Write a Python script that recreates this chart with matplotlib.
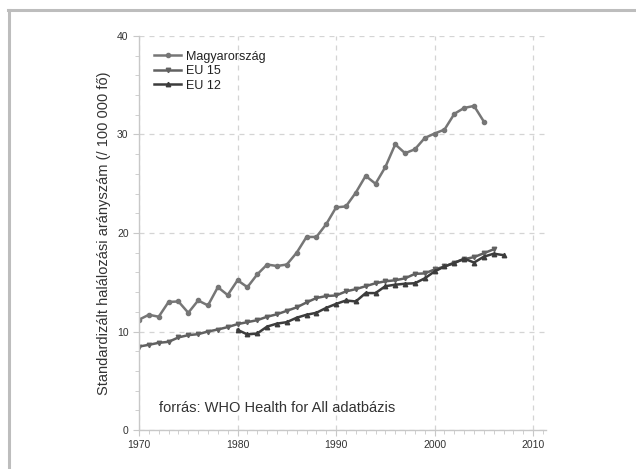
import matplotlib
matplotlib.use("Agg")
import matplotlib.pyplot as plt
from matplotlib.lines import Line2D
from matplotlib.ticker import MultipleLocator

plt.rcParams['font.family'] = ['Liberation Sans', 'DejaVu Sans']

years_hu = list(range(1970, 2006))
hu = [11.2, 11.7, 11.5, 13.0, 13.05, 11.9, 13.15, 12.65, 14.5, 13.7,
      15.2, 14.5, 15.8, 16.8, 16.65, 16.8, 18.0, 19.6, 19.6, 20.9,
      22.6, 22.7, 24.1, 25.8, 25.0, 26.7, 29.0, 28.1, 28.5, 29.65,
      30.1, 30.5, 32.1, 32.7, 32.9, 31.3]

years_eu15 = list(range(1970, 2007))
eu15 = [8.47, 8.65, 8.85, 8.95, 9.4, 9.63, 9.73, 10.0, 10.2, 10.45,
        10.75, 10.95, 11.15, 11.5, 11.75, 12.1, 12.45, 12.95, 13.4, 13.6,
        13.66, 14.07, 14.3, 14.6, 14.9, 15.1, 15.2, 15.4, 15.85, 15.9,
        16.3, 16.6, 17.0, 17.35, 17.55, 17.95, 18.35]

years_eu12 = list(range(1980, 2008))
eu12 = [10.17, 9.7, 9.8, 10.5, 10.8, 10.95, 11.4, 11.7, 11.9, 12.4,
        12.8, 13.15, 13.05, 13.9, 13.9, 14.6, 14.75, 14.85, 14.9, 15.4,
        16.1, 16.6, 16.95, 17.4, 17.0, 17.6, 17.9, 17.75]

labels = ['Magyarország', 'EU 15', 'EU 12']
ylabel = 'Standardizált halálozási arányszám (/ 100 000 fő)'
note = 'forrás: WHO Health for All adatbázis'

fig = plt.figure(figsize=(6.36, 4.69), dpi=100)
W, H = 636, 469
ax = fig.add_axes([139 / W, 1 - 430 / H, (546 - 139) / W, (430 - 36) / H])

ax.plot(years_hu, hu, color='#767676', lw=1.8, marker='o', ms=3.0, label=labels[0])
ax.plot(years_eu15, eu15, color='#616161', lw=1.8, marker='v', ms=3.2, label=labels[1])
ax.plot(years_eu12, eu12, color='#3c3c3c', lw=1.8, marker='^', ms=3.2, label=labels[2])

ax.set_xlim(1970, 2011.3)
ax.set_ylim(0, 40)
ax.xaxis.set_major_locator(MultipleLocator(10))
ax.xaxis.set_minor_locator(MultipleLocator(1))
ax.yaxis.set_major_locator(MultipleLocator(10))
ax.yaxis.set_minor_locator(MultipleLocator(2))
ax.tick_params(which='both', direction='out', colors='#c8c8c8', labelcolor='#333333',
               labelsize=7.5)
ax.tick_params(which='major', length=4)
ax.tick_params(which='minor', length=3)
for s in ['top', 'right']:
    ax.spines[s].set_visible(False)
for s in ['left', 'bottom']:
    ax.spines[s].set_color('#c8c8c8')
    ax.spines[s].set_linewidth(1)
ax.grid(True, which='major', ls=(0, (4, 4)), color='#d4d4d4', lw=0.9)
ax.set_axisbelow(True)

ax.set_ylabel(ylabel, fontsize=10.5, color='#333333', labelpad=4)
ax.text(1972.0, 1.8, note, fontsize=10.5, color='#333333')

leg = ax.legend(loc='upper left', bbox_to_anchor=(0.015, 0.985), frameon=False,
                fontsize=9, handlelength=2.2, handletextpad=0.35, labelspacing=0.2,
                borderaxespad=0.3)
for t in leg.get_texts():
    t.set_color('#222222')

fig.add_artist(Line2D([9 / W, 9 / W], [0, 1 - 10 / H], transform=fig.transFigure,
                      color='#bdbdbd', lw=2.2))
fig.add_artist(Line2D([8 / W, 1], [1 - 10 / H, 1 - 10 / H], transform=fig.transFigure,
                      color='#bdbdbd', lw=2.2))

fig.savefig('out.png', dpi=100)
